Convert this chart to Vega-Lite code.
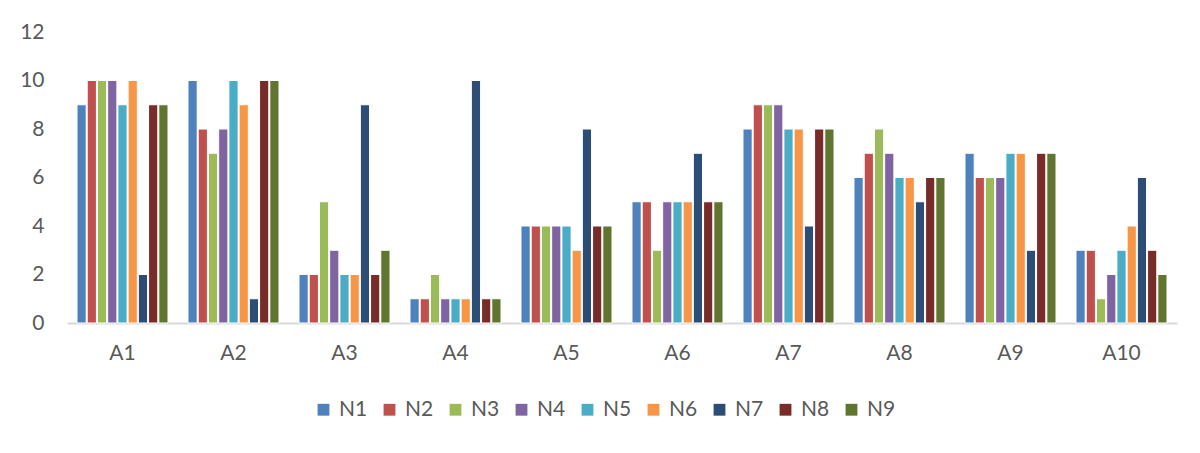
{
  "$schema": "https://vega.github.io/schema/vega-lite/v6.json",
  "width": 1110,
  "height": 291,
  "padding": {"left": 67, "top": 32, "right": 23, "bottom": 130},
  "autosize": {"type": "none"},
  "background": "white",
  "config": {"view": {"stroke": null}, "font": "Lato"},
  "data": {"values": [
    {"g":"A1","s":"N1","v":9},{"g":"A1","s":"N2","v":10},{"g":"A1","s":"N3","v":10},{"g":"A1","s":"N4","v":10},{"g":"A1","s":"N5","v":9},{"g":"A1","s":"N6","v":10},{"g":"A1","s":"N7","v":2},{"g":"A1","s":"N8","v":9},{"g":"A1","s":"N9","v":9},
    {"g":"A2","s":"N1","v":10},{"g":"A2","s":"N2","v":8},{"g":"A2","s":"N3","v":7},{"g":"A2","s":"N4","v":8},{"g":"A2","s":"N5","v":10},{"g":"A2","s":"N6","v":9},{"g":"A2","s":"N7","v":1},{"g":"A2","s":"N8","v":10},{"g":"A2","s":"N9","v":10},
    {"g":"A3","s":"N1","v":2},{"g":"A3","s":"N2","v":2},{"g":"A3","s":"N3","v":5},{"g":"A3","s":"N4","v":3},{"g":"A3","s":"N5","v":2},{"g":"A3","s":"N6","v":2},{"g":"A3","s":"N7","v":9},{"g":"A3","s":"N8","v":2},{"g":"A3","s":"N9","v":3},
    {"g":"A4","s":"N1","v":1},{"g":"A4","s":"N2","v":1},{"g":"A4","s":"N3","v":2},{"g":"A4","s":"N4","v":1},{"g":"A4","s":"N5","v":1},{"g":"A4","s":"N6","v":1},{"g":"A4","s":"N7","v":10},{"g":"A4","s":"N8","v":1},{"g":"A4","s":"N9","v":1},
    {"g":"A5","s":"N1","v":4},{"g":"A5","s":"N2","v":4},{"g":"A5","s":"N3","v":4},{"g":"A5","s":"N4","v":4},{"g":"A5","s":"N5","v":4},{"g":"A5","s":"N6","v":3},{"g":"A5","s":"N7","v":8},{"g":"A5","s":"N8","v":4},{"g":"A5","s":"N9","v":4},
    {"g":"A6","s":"N1","v":5},{"g":"A6","s":"N2","v":5},{"g":"A6","s":"N3","v":3},{"g":"A6","s":"N4","v":5},{"g":"A6","s":"N5","v":5},{"g":"A6","s":"N6","v":5},{"g":"A6","s":"N7","v":7},{"g":"A6","s":"N8","v":5},{"g":"A6","s":"N9","v":5},
    {"g":"A7","s":"N1","v":8},{"g":"A7","s":"N2","v":9},{"g":"A7","s":"N3","v":9},{"g":"A7","s":"N4","v":9},{"g":"A7","s":"N5","v":8},{"g":"A7","s":"N6","v":8},{"g":"A7","s":"N7","v":4},{"g":"A7","s":"N8","v":8},{"g":"A7","s":"N9","v":8},
    {"g":"A8","s":"N1","v":6},{"g":"A8","s":"N2","v":7},{"g":"A8","s":"N3","v":8},{"g":"A8","s":"N4","v":7},{"g":"A8","s":"N5","v":6},{"g":"A8","s":"N6","v":6},{"g":"A8","s":"N7","v":5},{"g":"A8","s":"N8","v":6},{"g":"A8","s":"N9","v":6},
    {"g":"A9","s":"N1","v":7},{"g":"A9","s":"N2","v":6},{"g":"A9","s":"N3","v":6},{"g":"A9","s":"N4","v":6},{"g":"A9","s":"N5","v":7},{"g":"A9","s":"N6","v":7},{"g":"A9","s":"N7","v":3},{"g":"A9","s":"N8","v":7},{"g":"A9","s":"N9","v":7},
    {"g":"A10","s":"N1","v":3},{"g":"A10","s":"N2","v":3},{"g":"A10","s":"N3","v":1},{"g":"A10","s":"N4","v":2},{"g":"A10","s":"N5","v":3},{"g":"A10","s":"N6","v":4},{"g":"A10","s":"N7","v":6},{"g":"A10","s":"N8","v":3},{"g":"A10","s":"N9","v":2}
  ]},
  "mark": {"type": "bar", "stroke": "white", "strokeWidth": 1},
  "encoding": {
    "x": {
      "field": "g", "type": "nominal", "sort": null,
      "scale": {"paddingInner": 0.18, "paddingOuter": 0.09},
      "axis": {"title": null, "labelAngle": 0, "ticks": false, "domainColor": "#D9D9D9", "domainWidth": 2, "labelFontSize": 21, "labelColor": "#595959", "labelPadding": 19, "grid": false}
    },
    "xOffset": {"field": "s", "type": "nominal", "sort": null, "scale": {"paddingInner": 0.1}},
    "y": {
      "field": "v", "type": "quantitative",
      "scale": {"domain": [0, 12], "nice": false},
      "axis": {"title": null, "values": [0,2,4,6,8,10,12], "domain": false, "ticks": false, "grid": false, "labelFontSize": 21, "labelColor": "#595959", "labelPadding": 23}
    },
    "color": {
      "field": "s", "type": "nominal", "sort": null,
      "scale": {"domain": ["N1","N2","N3","N4","N5","N6","N7","N8","N9"], "range": ["#4F81BD","#C0504D","#9BBB59","#8064A2","#4BACC6","#F79646","#2C4D75","#772C2A","#5F7530"]},
      "legend": {"title": null, "orient": "none", "direction": "horizontal", "legendX": 246, "legendY": 367, "symbolType": "square", "symbolSize": 140, "symbolStrokeWidth": 0, "labelFontSize": 21, "labelColor": "#595959", "columnPadding": 11, "labelOffset": 5}
    }
  }
}
